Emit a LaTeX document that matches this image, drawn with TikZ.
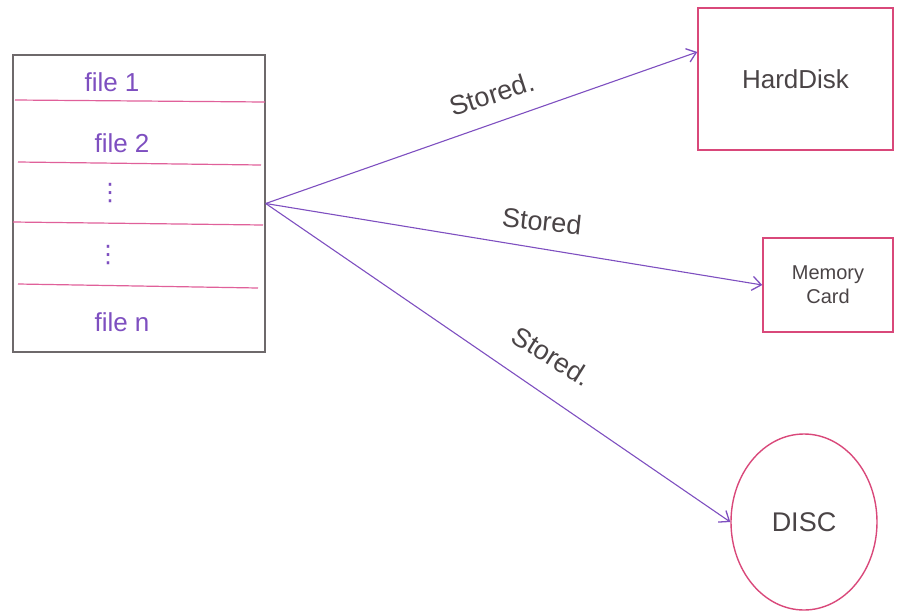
\documentclass[tikz,border=0pt]{standalone}
\usepackage{fontspec}
\setmainfont{Liberation Sans}
\newfontfamily\dejavu{DejaVu Sans}
\usetikzlibrary{arrows.meta,shapes.geometric}
\definecolor{pen}{HTML}{7E4FC0}
\definecolor{pinkline}{HTML}{E0609A}
\definecolor{boxpink}{HTML}{D9487A}
\definecolor{ink}{HTML}{4A4446}
\tikzset{
  tblbox/.style={draw=ink!80, line width=1.4pt, minimum width=252pt, minimum height=297pt, inner sep=0pt},
  rowline/.style={draw=pinkline, line width=1.2pt},
  filetext/.style={text=pen, font=\fontsize{26}{30}\selectfont, inner sep=1pt},
  dottext/.style={text=pen, font=\dejavu\fontsize{24}{28}\selectfont, inner sep=1pt},
  devbox/.style={draw=boxpink, line width=1.4pt, inner sep=0pt, text=ink, align=center},
  conn/.style={draw=pen, line width=1.1pt, -{Straight Barb[length=9pt,width=14pt,line width=1.3pt]}},
  lbl/.style={text=ink, font=\fontsize{27}{30}\selectfont, inner sep=2pt}
}
\begin{document}
\begin{tikzpicture}[x=1pt,y=-1pt]
\useasboundingbox (0,0) rectangle (898,614);
% left table
\node[tblbox] (tbl) at (139,203.5) {};
\draw[rowline] (15,100) -- (265,102);
\draw[rowline] (18,162) -- (261,165);
\draw[rowline] (13,222) -- (263,225);
\draw[rowline] (18,284) -- (258,288);
\node[filetext] (f1) at (112,82) {file 1};
\node[filetext] (f2) at (122,143) {file 2};
\node[dottext] (d1) at (110,193) {⋮};
\node[dottext] (d2) at (108,255) {⋮};
\node[filetext] (fn) at (122,322) {file n};
% devices
\node[devbox, minimum width=195pt, minimum height=142pt, font=\fontsize{26}{30}\selectfont] (hd) at (795.5,79) {HardDisk};
\node[devbox, minimum width=130pt, minimum height=94pt, font=\fontsize{20}{24}\selectfont] (mc) at (828,285) {Memory\\Card};
\node[devbox, ellipse, minimum width=146pt, minimum height=176pt, font=\fontsize{27}{30}\selectfont] (disc) at (804,522) {DISC};
% connectors
\coordinate (src) at (tbl.east);
\draw[conn] (src) -- (hd.west |- 0,52) coordinate (hdin);
\draw[conn] (src) -- (mc.west) coordinate (mcin);
\draw[conn] (src) -- (disc.west) coordinate (discin);
\node[lbl, rotate=18] (l1) at (492,94) {Stored.};
\node[lbl, rotate=-6] (l2) at (542,221) {Stored};
\node[lbl, rotate=-32] (l3) at (552,356) {Stored.};
\end{tikzpicture}
\end{document}
